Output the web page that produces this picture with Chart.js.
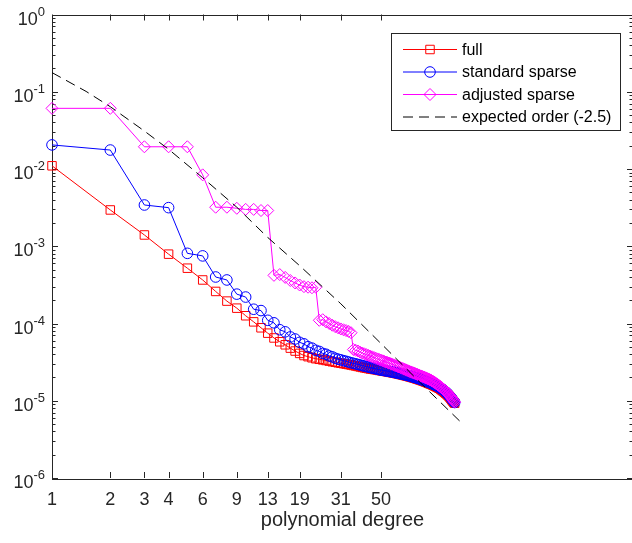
<!DOCTYPE html>
<html>
<head>
<meta charset="utf-8">
<script src="https://cdn.jsdelivr.net/npm/chart.js@4.4.1/dist/chart.umd.min.js"></script>
<style>
  html, body { margin: 0; padding: 0; background: #fff; overflow: hidden; }
  #wrap { width: 640px; height: 543px; }
</style>
</head>
<body>
<div id="wrap"><canvas id="chart" width="640" height="543"></canvas></div>
<script>
// polynomial degree of each run
const degrees = [
  1, 2, 3, 4, 5, 6, 7, 8, 9, 10, 11, 12, 13, 14, 15, 16, 17, 18, 19, 20,
  21, 22, 23, 24, 25, 26, 27, 28, 29, 30, 31, 32, 33, 34, 35, 36, 37, 38, 39, 40,
  41, 42, 43, 44, 45, 46, 47, 48, 49, 50, 51, 52, 53, 54, 55, 56, 57, 58, 59, 60,
  61, 62, 63, 64, 65, 66, 67, 68, 69, 70, 71, 72, 73, 74, 75, 76, 77, 78, 79, 80,
  81, 82, 83, 84, 85, 86, 87, 88, 89, 90, 91, 92, 93, 94, 95, 96, 97, 98, 99, 100,
  101, 102, 103, 104, 105, 106, 107, 108, 109, 110, 111, 112, 113, 114, 115, 116, 117, 118, 119, 120
];

const fullErr = [
  0.011, 0.00295, 0.0014, 7.9e-4, 5.2e-4, 3.66e-4, 2.6e-4, 1.95e-4, 1.58e-4, 1.26e-4,
  1.05e-4, 8.8e-5, 7.5e-5, 6.5e-5, 5.8e-5, 5.3e-5, 4.8e-5, 4.4e-5, 4.1e-5, 3.85e-5,
  3.72e-5, 3.6e-5, 3.5e-5, 3.44e-5, 3.38e-5, 3.32e-5, 3.26e-5, 3.2e-5, 3.15e-5, 3.1e-5,
  3.06e-5, 3.02e-5, 2.98e-5, 2.94e-5, 2.9e-5, 2.86e-5, 2.82e-5, 2.78e-5, 2.74e-5, 2.7e-5,
  2.67e-5, 2.64e-5, 2.61e-5, 2.58e-5, 2.56e-5, 2.54e-5, 2.52e-5, 2.5e-5, 2.47e-5, 2.45e-5,
  2.43e-5, 2.41e-5, 2.39e-5, 2.37e-5, 2.35e-5, 2.33e-5, 2.31e-5, 2.29e-5, 2.27e-5, 2.25e-5,
  2.23e-5, 2.21e-5, 2.19e-5, 2.17e-5, 2.15e-5, 2.13e-5, 2.11e-5, 2.09e-5, 2.07e-5, 2.05e-5,
  2.03e-5, 2.01e-5, 1.99e-5, 1.97e-5, 1.95e-5, 1.93e-5, 1.91e-5, 1.89e-5, 1.87e-5, 1.85e-5,
  1.83e-5, 1.81e-5, 1.79e-5, 1.77e-5, 1.75e-5, 1.73e-5, 1.71e-5, 1.69e-5, 1.67e-5, 1.65e-5,
  1.63e-5, 1.61e-5, 1.59e-5, 1.57e-5, 1.55e-5, 1.53e-5, 1.51e-5, 1.49e-5, 1.47e-5, 1.45e-5,
  1.43e-5, 1.4e-5, 1.38e-5, 1.35e-5, 1.33e-5, 1.3e-5, 1.28e-5, 1.25e-5, 1.23e-5, 1.2e-5,
  1.18e-5, 1.15e-5, 1.12e-5, 1.09e-5, 1.06e-5, 1.03e-5, 1.0e-5, 9.7e-6, 9.5e-6, 9.3e-6
];

const standardErr = [
  0.0205, 0.0176, 0.00342, 0.00316, 8.1e-4, 7.5e-4, 4.0e-4, 3.66e-4, 2.4e-4, 2.2e-4,
  1.53e-4, 1.47e-4, 1.1e-4, 1.02e-4, 8.3e-5, 7.8e-5, 6.7e-5, 6.3e-5, 5.7e-5, 5.45e-5,
  5.0e-5, 4.8e-5, 4.5e-5, 4.35e-5, 4.1e-5, 4.0e-5, 3.8e-5, 3.7e-5, 3.55e-5, 3.45e-5,
  3.38e-5, 3.3e-5, 3.24e-5, 3.17e-5, 3.1e-5, 3.05e-5, 3.0e-5, 2.95e-5, 2.9e-5, 2.85e-5,
  2.81e-5, 2.77e-5, 2.73e-5, 2.69e-5, 2.65e-5, 2.62e-5, 2.59e-5, 2.56e-5, 2.53e-5, 2.5e-5,
  2.48e-5, 2.46e-5, 2.44e-5, 2.42e-5, 2.4e-5, 2.38e-5, 2.36e-5, 2.34e-5, 2.32e-5, 2.3e-5,
  2.28e-5, 2.26e-5, 2.24e-5, 2.22e-5, 2.2e-5, 2.18e-5, 2.16e-5, 2.14e-5, 2.12e-5, 2.1e-5,
  2.08e-5, 2.06e-5, 2.04e-5, 2.02e-5, 2.0e-5, 1.98e-5, 1.96e-5, 1.94e-5, 1.92e-5, 1.9e-5,
  1.88e-5, 1.86e-5, 1.84e-5, 1.82e-5, 1.8e-5, 1.78e-5, 1.76e-5, 1.74e-5, 1.72e-5, 1.7e-5,
  1.68e-5, 1.66e-5, 1.64e-5, 1.62e-5, 1.6e-5, 1.58e-5, 1.56e-5, 1.54e-5, 1.52e-5, 1.5e-5,
  1.47e-5, 1.45e-5, 1.42e-5, 1.4e-5, 1.37e-5, 1.35e-5, 1.32e-5, 1.3e-5, 1.27e-5, 1.24e-5,
  1.21e-5, 1.18e-5, 1.15e-5, 1.12e-5, 1.09e-5, 1.06e-5, 1.03e-5, 1.0e-5, 9.7e-6, 9.5e-6
];

const adjustedErr = [
  0.061, 0.061, 0.0194, 0.0194, 0.0194, 0.0084, 0.0032, 0.0032, 0.0031, 0.003,
  0.003, 0.0029, 0.0029, 4.2e-4, 4.3e-4, 3.95e-4, 3.6e-4, 3.35e-4, 3.15e-4, 3.0e-4,
  2.95e-4, 2.9e-4, 2.95e-4, 1.1e-4, 1.12e-4, 1.05e-4, 1.0e-4, 9.5e-5, 9.1e-5, 8.8e-5,
  8.5e-5, 8.3e-5, 8.1e-5, 7.9e-5, 7.6e-5, 4.6e-5, 4.5e-5, 4.4e-5, 4.25e-5, 4.15e-5,
  4.05e-5, 3.95e-5, 3.86e-5, 3.78e-5, 3.7e-5, 3.62e-5, 3.55e-5, 3.48e-5, 3.41e-5, 3.35e-5,
  3.29e-5, 3.23e-5, 3.17e-5, 3.12e-5, 3.07e-5, 3.02e-5, 2.97e-5, 2.92e-5, 2.87e-5, 2.82e-5,
  2.77e-5, 2.73e-5, 2.68e-5, 2.64e-5, 2.6e-5, 2.56e-5, 2.52e-5, 2.48e-5, 2.44e-5, 2.4e-5,
  2.37e-5, 2.34e-5, 2.31e-5, 2.28e-5, 2.25e-5, 2.22e-5, 2.19e-5, 2.16e-5, 2.13e-5, 2.1e-5,
  2.08e-5, 2.06e-5, 2.03e-5, 2.01e-5, 1.98e-5, 1.96e-5, 1.93e-5, 1.91e-5, 1.88e-5, 1.86e-5,
  1.83e-5, 1.8e-5, 1.77e-5, 1.74e-5, 1.71e-5, 1.68e-5, 1.65e-5, 1.62e-5, 1.59e-5, 1.56e-5,
  1.53e-5, 1.5e-5, 1.47e-5, 1.44e-5, 1.41e-5, 1.38e-5, 1.35e-5, 1.32e-5, 1.29e-5, 1.26e-5,
  1.23e-5, 1.2e-5, 1.17e-5, 1.14e-5, 1.11e-5, 1.08e-5, 1.05e-5, 1.02e-5, 9.9e-6, 9.6e-6
];

// reference slope line
const expectedDeg = [1, 1.5, 2, 3, 4, 6, 9, 13, 19, 31, 50, 80, 130];
const expectedErr = [0.177, 0.101, 0.064, 0.031, 0.018, 0.0077, 0.0032, 0.0013, 0.00056, 0.00018, 5.5e-5, 1.7e-5, 5.2e-6];

// axis ticks
const xTicks = [1, 2, 3, 4, 6, 9, 13, 19, 31, 50];
const yExponents = [-6, -5, -4, -3, -2, -1, 0];

const axisColor = "#262626";
const fontFamily = '"Liberation Sans", Arial, Helvetica, sans-serif';

const toPoints = (xs, ys) => ys.map((y, i) => ({ x: xs[i], y: y }));

const drawMarker = (ctx, style, x, y, r) => {
  ctx.beginPath();
  if (style === "rect") {
    ctx.rect(x - r * Math.SQRT1_2, y - r * Math.SQRT1_2, 2 * r * Math.SQRT1_2, 2 * r * Math.SQRT1_2);
  } else if (style === "circle") {
    ctx.arc(x, y, r, 0, Math.PI * 2);
  } else if (style === "rectRot") {
    ctx.moveTo(x - r, y);
    ctx.lineTo(x, y - r);
    ctx.lineTo(x + r, y);
    ctx.lineTo(x, y + r);
    ctx.closePath();
  }
  ctx.stroke();
};

const matlabFrame = {
  id: "matlabFrame",
  beforeDatasetsDraw(chart) {
    const { ctx, chartArea: a, scales } = chart;
    const x = scales.x, y = scales.y;
    ctx.save();
    ctx.strokeStyle = axisColor;
    ctx.lineWidth = 1;
    ctx.beginPath();
    xTicks.forEach((v) => {
      const px = Math.round(x.getPixelForValue(v)) + 0.5;
      ctx.moveTo(px, a.bottom);
      ctx.lineTo(px, a.bottom - 6);
      ctx.moveTo(px, a.top);
      ctx.lineTo(px, a.top + 6);
    });
    yExponents.forEach((e) => {
      for (let m = 1; m <= 9; m++) {
        if (e === 0 && m > 1) break;
        const py = Math.round(y.getPixelForValue(m * Math.pow(10, e))) + 0.5;
        const len = m === 1 ? 6 : 3.5;
        ctx.moveTo(a.left, py);
        ctx.lineTo(a.left + len, py);
        ctx.moveTo(a.right, py);
        ctx.lineTo(a.right - len, py);
      }
    });
    ctx.stroke();
    ctx.strokeRect(Math.round(a.left) + 0.5, Math.round(a.top) + 0.5, Math.round(a.right - a.left), Math.round(a.bottom - a.top));
    ctx.restore();
  },
  afterDraw(chart) {
    const { ctx, scales } = chart;
    const y = scales.y;
    ctx.save();
    ctx.fillStyle = axisColor;
    // y tick labels as 10 with a raised exponent
    yExponents.forEach((e) => {
      const py = y.getPixelForValue(Math.pow(10, e));
      const exp = e === 0 ? "0" : "-" + Math.abs(e);
      ctx.font = "13px " + fontFamily;
      const expW = ctx.measureText(exp).width;
      ctx.textAlign = "left";
      ctx.textBaseline = "alphabetic";
      ctx.fillText(exp, 45 - expW, py + 1);
      ctx.font = "18px " + fontFamily;
      ctx.textAlign = "right";
      ctx.fillText("10", 45 - expW, py + 10);
    });

    // legend box
    const box = { left: 391.5, top: 33.5, width: 229, height: 97 };
    ctx.fillStyle = "#fff";
    ctx.fillRect(box.left, box.top, box.width, box.height);
    ctx.strokeStyle = axisColor;
    ctx.lineWidth = 1;
    ctx.strokeRect(box.left, box.top, box.width, box.height);
    const rows = [49.5, 72, 94.5, 117];
    ctx.font = "16px " + fontFamily;
    ctx.textAlign = "left";
    ctx.textBaseline = "middle";
    chart.data.datasets.forEach((ds, i) => {
      const ry = rows[i];
      ctx.save();
      ctx.strokeStyle = ds.borderColor;
      ctx.lineWidth = 1;
      ctx.setLineDash(ds.borderDash || []);
      ctx.beginPath();
      ctx.moveTo(403, ry);
      ctx.lineTo(457, ry);
      ctx.stroke();
      ctx.setLineDash([]);
      if (ds.pointRadius > 0) drawMarker(ctx, ds.pointStyle, 430, ry, ds.pointRadius);
      ctx.restore();
      ctx.fillStyle = "#000";
      ctx.fillText(ds.label, 462, ry + 1);
    });
    ctx.restore();
  }
};

Chart.defaults.font.family = fontFamily;

new Chart(document.getElementById("chart"), {
  type: "line",
  data: {
    datasets: [
      {
        label: "full",
        data: toPoints(degrees, fullErr),
        borderColor: "#ff0000",
        borderWidth: 1,
        pointStyle: "rect",
        pointRadius: 6,
        pointBorderWidth: 1,
        pointBorderColor: "#ff0000",
        pointBackgroundColor: "rgba(0,0,0,0)",
        clip: false,
        order: 3
      },
      {
        label: "standard sparse",
        data: toPoints(degrees, standardErr),
        borderColor: "#0000ff",
        borderWidth: 1,
        pointStyle: "circle",
        pointRadius: 5.3,
        pointBorderWidth: 1,
        pointBorderColor: "#0000ff",
        pointBackgroundColor: "rgba(0,0,0,0)",
        clip: false,
        order: 2
      },
      {
        label: "adjusted sparse",
        data: toPoints(degrees, adjustedErr),
        borderColor: "#ff00ff",
        borderWidth: 1,
        pointStyle: "rectRot",
        pointRadius: 6,
        pointBorderWidth: 1,
        pointBorderColor: "#ff00ff",
        pointBackgroundColor: "rgba(0,0,0,0)",
        clip: false,
        order: 1
      },
      {
        label: "expected order (-2.5)",
        data: toPoints(expectedDeg, expectedErr),
        borderColor: "#000000",
        borderWidth: 1,
        borderDash: [10, 6],
        pointRadius: 0,
        order: 0
      }
    ]
  },
  options: {
    responsive: false,
    animation: false,
    devicePixelRatio: 1,
    events: [],
    layout: { padding: { top: 14.5, right: 3.6, bottom: 0, left: 0 } },
    plugins: { legend: { display: false }, tooltip: { enabled: false } },
    elements: { line: { tension: 0 } },
    scales: {
      x: {
        type: "logarithmic",
        min: 1,
        max: 1000,
        grid: { display: false, drawTicks: false },
        border: { display: false },
        afterBuildTicks: (s) => { s.ticks = xTicks.map((v) => ({ value: v })); },
        afterFit: (s) => { s.height = 65; },
        ticks: {
          autoSkip: false,
          maxRotation: 0,
          padding: 11,
          color: axisColor,
          font: { size: 18 },
          callback: (v) => String(v)
        },
        title: {
          display: true,
          text: "polynomial degree",
          color: axisColor,
          font: { size: 20 },
          padding: { top: 0, bottom: 11 }
        }
      },
      y: {
        type: "logarithmic",
        min: 1e-6,
        max: 1,
        grid: { display: false, drawTicks: false },
        border: { display: false },
        afterBuildTicks: (s) => { s.ticks = yExponents.map((e) => ({ value: Math.pow(10, e) })); },
        afterFit: (s) => { s.width = 52; },
        ticks: { display: false }
      }
    }
  },
  plugins: [matlabFrame]
});
</script>
</body>
</html>
